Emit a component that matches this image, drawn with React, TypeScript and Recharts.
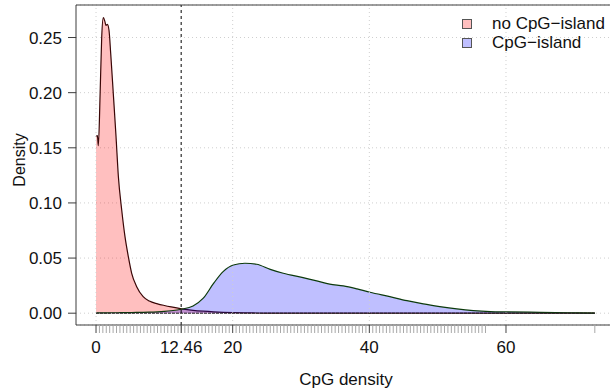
import * as React from "react"
import {
  ComposedChart,
  Area,
  XAxis,
  YAxis,
  CartesianGrid,
  ReferenceLine,
} from "recharts"

// sample positions along CpG density
const X_VALUES = [
  0, 0.2, 0.34, 0.6, 0.83, 1.07, 1.32, 1.46, 1.66, 1.9, 2.15, 2.53, 2.93, 3.27, 3.76, 4.24, 4.73,
  5.22, 5.95, 6.9, 7.8, 9, 10, 11, 12.5, 14.2, 15.7, 17.2, 18.6, 20.1, 21.8, 23.5, 25.5, 27.4,
  30.3, 32.3, 34.2, 36.2, 38.2, 40.1, 43, 45.5, 47.9, 50.3, 52.8, 55.2, 57.7, 60.1, 65, 69, 73,
]

const NO_ISLAND = [
  0.16, 0.161, 0.152, 0.199, 0.25, 0.268, 0.264, 0.261, 0.262, 0.2566, 0.2355, 0.199, 0.16, 0.124,
  0.0936, 0.0694, 0.0513, 0.0362, 0.0241, 0.015, 0.011, 0.0085, 0.007, 0.0057, 0.004, 0.0026,
  0.0018, 0.0012, 0.0008, 0.0005, 0.0003, 0.0002, 0.0001, 0, 0, 0, 0, 0, 0, 0, 0, 0, 0, 0, 0, 0,
  0, 0, 0, 0, 0,
]

const ISLAND = [
  0.0003, 0.0003, 0.0003, 0.0003, 0.0003, 0.0003, 0.0003, 0.0003, 0.0003, 0.0003, 0.0004, 0.0004,
  0.0004, 0.0004, 0.0005, 0.0005, 0.0005, 0.0006, 0.0007, 0.0008, 0.0009, 0.0012, 0.0016, 0.0022,
  0.0036, 0.0066, 0.0136, 0.027, 0.0377, 0.0437, 0.0453, 0.0444, 0.0398, 0.0362, 0.0323, 0.0293,
  0.0263, 0.0247, 0.022, 0.019, 0.015, 0.0114, 0.0084, 0.006, 0.0039, 0.0024, 0.0015, 0.0012,
  0.0008, 0.0004, 0.0001,
]

// observed values shown as rug marks under the axis
const RUG = [
  0.5, 1, 1.5, 2, 2.5, 3, 3.5, 4, 4.5, 5, 5.5, 6, 6.5, 7, 7.5, 8, 8.5, 9, 9.5, 10, 10.5, 11,
  11.5, 12, 12.5, 13, 13.5, 14, 14.5, 15, 15.5, 16, 16.5, 17, 17.5, 18, 18.5, 19, 19.5, 20.5,
  21, 21.5, 22, 22.5, 23, 23.5, 24, 24.5, 25, 25.5, 26, 26.5, 27, 27.5, 28, 28.5, 29, 29.5, 30,
  30.5, 31, 31.5, 32, 32.5, 33, 33.5, 34, 34.5, 35, 35.5, 36, 36.5, 37, 37.5, 38, 38.5, 39, 39.5,
  40.5, 41, 41.5, 42, 42.5, 43, 43.5, 44, 44.5, 45, 45.5, 46, 46.5, 47, 47.5, 48, 48.5, 49,
  49.5, 50, 50.5, 51, 51.5, 52, 52.5, 53, 53.5, 54, 54.5, 55, 55.5, 56, 56.5, 57, 73,
]

const X_TICKS = [0, 12.46, 20, 40, 60]
const X_GRID = [0, 20, 40, 60]
const Y_TICKS = [0, 0.05, 0.1, 0.15, 0.2, 0.25]
const X_DOMAIN: [number, number] = [-2.93, 76.1]
const Y_DOMAIN: [number, number] = [-0.0107, 0.2795]
const CUTOFF = 12.46

const SERIES = [
  { key: "noIsland", name: "no CpG\u2212island", fill: "#ff0000", stroke: "#3a0606", swatch: "#ffbfbf" },
  { key: "island", name: "CpG\u2212island", fill: "#0000ff", stroke: "#0c3a0c", swatch: "#bfbfff" },
]

const FONT = "'Liberation Sans', Arial, Helvetica, sans-serif"
const BOX = "#3c3c3c"
const FS = 17

const data = X_VALUES.map((x, i) => ({ x, noIsland: NO_ISLAND[i], island: ISLAND[i] }))

function XTick(props: any) {
  const { x, y, payload } = props
  const major = X_TICKS.includes(payload.value)
  return (
    <g>
      <line x1={x} x2={x} y1={y} y2={y + 8} stroke={major ? "#444" : "#a8a8a8"} strokeWidth={1} />
      {major && (
        <text x={x} y={y + 28} textAnchor="middle" fontSize={FS} fontFamily={FONT} fill="#111">
          {payload.value}
        </text>
      )}
    </g>
  )
}

function YLabel(props: any) {
  const vb = props.viewBox
  const cx = vb.x + 19
  const cy = vb.y + vb.height / 2 - 5
  return (
    <text
      x={cx}
      y={cy}
      transform={`rotate(-90 ${cx} ${cy})`}
      textAnchor="middle"
      dominantBaseline="central"
      fontSize={16}
      fontFamily={FONT}
      fill="#111"
    >
      Density
    </text>
  )
}

function LegendBox() {
  return (
    <div style={{ position: "absolute", top: 14, left: 462, fontFamily: FONT, fontSize: FS, lineHeight: "19px", color: "#111" }}>
      {SERIES.map(s => (
        <div key={s.key} style={{ display: "flex", alignItems: "center", height: 19, whiteSpace: "nowrap" }}>
          <span
            style={{
              display: "inline-block",
              width: 8,
              height: 8,
              background: s.swatch,
              border: "1px solid #555",
              marginRight: 20,
            }}
          />
          <span>{s.name}</span>
        </div>
      ))}
    </div>
  )
}

export default function App() {
  const ticks = [...RUG, ...X_TICKS]
  return (
    <div style={{ position: "absolute", left: 0, top: 0, width: 610, height: 391, overflow: "hidden", background: "#fff" }}>
      <ComposedChart width={620} height={391} data={data} margin={{ top: 5, right: 4, bottom: 0, left: 0 }}>
        <CartesianGrid vertical={false} stroke="#cfcfcf" strokeDasharray="1 3" />
        {X_GRID.map(g => (
          <ReferenceLine key={g} x={g} stroke="#cfcfcf" strokeDasharray="1 3" />
        ))}
        <XAxis
          dataKey="x"
          type="number"
          domain={X_DOMAIN}
          ticks={ticks}
          interval={0}
          tickLine={false}
          tickSize={0}
          tickMargin={0}
          tick={<XTick />}
          axisLine={{ stroke: BOX }}
          height={66}
          label={{ value: "CpG density", position: "insideBottom", offset: 6, fontSize: FS, fontFamily: FONT, fill: "#111" }}
        />
        <YAxis
          type="number"
          domain={Y_DOMAIN}
          ticks={Y_TICKS}
          interval={0}
          width={76}
          tickSize={8}
          tickMargin={6}
          tickLine={{ stroke: BOX }}
          axisLine={{ stroke: BOX }}
          tickFormatter={(v: number) => v.toFixed(2)}
          tick={{ fontSize: FS, fontFamily: FONT, fill: "#111" }}
          label={<YLabel />}
        />
        {SERIES.map(s => (
          <Area
            key={s.key}
            dataKey={s.key}
            name={s.name}
            type="monotone"
            baseValue={0}
            fill={s.fill}
            fillOpacity={0.25}
            stroke={s.stroke}
            strokeWidth={1.2}
            isAnimationActive={false}
          />
        ))}
        <ReferenceLine
          segment={[{ x: 0, y: 0 }, { x: 73, y: 0 }]}
          stroke="#222"
          strokeDasharray="3 1"
        />
        <ReferenceLine x={CUTOFF} stroke="#000" strokeDasharray="3 3" />
        <ReferenceLine y={Y_DOMAIN[1]} stroke={BOX} />
      </ComposedChart>
      <LegendBox />
    </div>
  )
}
